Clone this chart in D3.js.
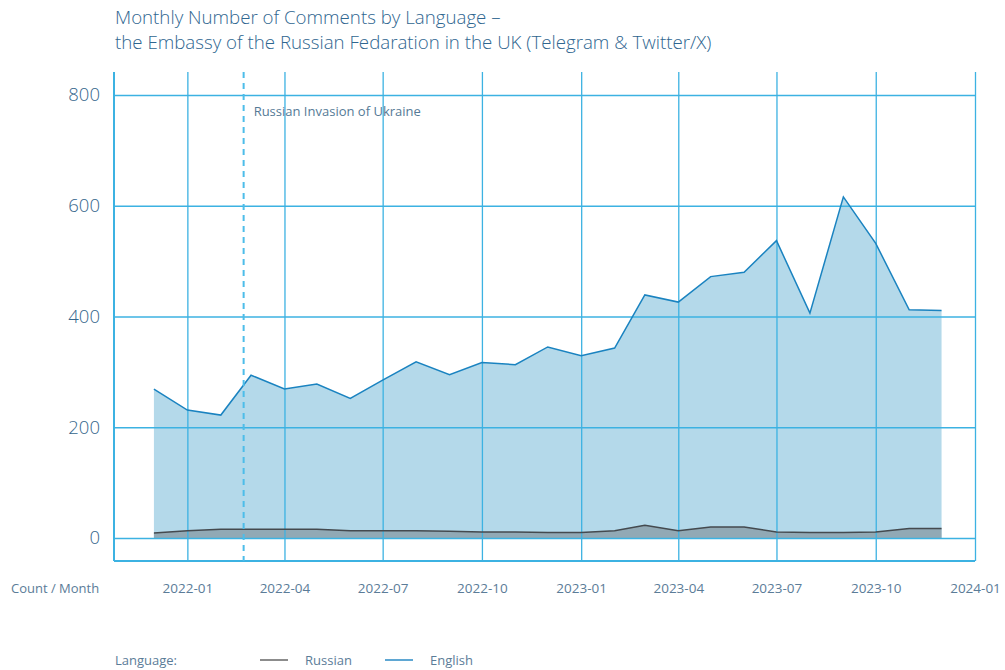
<!DOCTYPE html>
<html>
<head>
<meta charset="utf-8">
<script src="https://cdn.jsdelivr.net/npm/d3@7"></script>
<style>
  body { margin: 0; background: #fff; font-family: "Open Sans", sans-serif; }
  svg text { font-family: "Open Sans", sans-serif; }
</style>
</head>
<body>
<div id="graph-container"></div>
<script>
const w = 1005;
const h = 670;

// monthly counts, 2021-12 .. 2023-12
const months = [
  "2021-12", "2022-01", "2022-02", "2022-03", "2022-04", "2022-05", "2022-06",
  "2022-07", "2022-08", "2022-09", "2022-10", "2022-11", "2022-12",
  "2023-01", "2023-02", "2023-03", "2023-04", "2023-05", "2023-06",
  "2023-07", "2023-08", "2023-09", "2023-10", "2023-11", "2023-12"
];
const english = [
  269, 231, 222, 294, 269, 278, 252, 285, 318, 295, 317, 313, 345,
  329, 343, 439, 426, 472, 480, 537, 406, 616, 532, 412, 411
];
const russian = [
  9, 13, 16, 16, 16, 16, 13, 13, 13, 12, 11, 11, 10,
  10, 13, 23, 13, 20, 20, 11, 10, 10, 11, 17, 17
];
const yTicks = [0, 200, 400, 600, 800];
const xTicks = ["2022-01", "2022-04", "2022-07", "2022-10", "2023-01", "2023-04", "2023-07", "2023-10", "2024-01"];
const invasionDate = "2022-02-24";

const parseMonth = d3.timeParse("%Y-%m");
const parseDay = d3.timeParse("%Y-%m-%d");

const plotLeft = 114, plotRight = 975, plotTop = 72, plotBottom = 561;

const xScale = d3.scaleTime()
  .domain([parseDay("2021-10-25"), parseMonth("2024-01")])
  .range([plotLeft, plotRight]);

const yScale = d3.scaleLinear()
  .domain([-41.5, 841.5])
  .range([plotBottom, plotTop]);

const svg = d3.select("#graph-container").append("svg")
  .attr("width", w).attr("height", h);

//Title
const title = svg.append("text")
  .attr("fill", "#2f6690")
  .style("font-size", "18.7px")
  .style("font-weight", 300);
title.append("tspan").attr("x", 115).attr("y", 24).text("Monthly Number of Comments by Language –");
title.append("tspan").attr("x", 115).attr("y", 49).text("the Embassy of the Russian Fedaration in the UK (Telegram & Twitter/X)");

const gridColor = "#3cb2e2";

//Areas
const dataEn = months.map((m, i) => ({ date: parseMonth(m), v: english[i] }));
const dataRu = months.map((m, i) => ({ date: parseMonth(m), v: russian[i] }));

const area = d3.area()
  .x((d) => xScale(d.date))
  .y0(yScale(0))
  .y1((d) => yScale(d.v));
const line = d3.line()
  .x((d) => xScale(d.date))
  .y((d) => yScale(d.v));

svg.append("path").datum(dataEn).attr("d", area).attr("fill", "#b4d9ea");
svg.append("path").datum(dataRu).attr("d", area).attr("fill", "#91a9b5");

//Grid
const yAxis = d3.axisLeft(yScale).tickValues(yTicks)
  .tickSize(-(plotRight - plotLeft)).tickPadding(14);
svg.append("g")
  .attr("id", "y-axis")
  .attr("transform", `translate(${plotLeft}, 0)`)
  .call(yAxis)
  .call((g) => {
    g.select(".domain").remove();
    g.selectAll(".tick line").attr("stroke", gridColor).attr("stroke-width", 1.3);
    g.selectAll(".tick text").attr("fill", "#35668c").style("font-size", "18.5px").style("font-weight", 300);
  });

const xAxis = d3.axisBottom(xScale).tickValues(xTicks.map(parseMonth))
  .tickFormat(d3.timeFormat("%Y-%m"))
  .tickSize(-(plotBottom - plotTop)).tickPadding(22);
svg.append("g")
  .attr("id", "x-axis")
  .attr("transform", `translate(0, ${plotBottom})`)
  .call(xAxis)
  .call((g) => {
    g.select(".domain").remove();
    g.selectAll(".tick line").attr("stroke", gridColor).attr("stroke-width", 1.3);
    g.selectAll(".tick text").attr("fill", "#5b7c98").style("font-size", "13.5px");
  });

//Frame (left + bottom)
svg.append("line").attr("x1", plotLeft).attr("x2", plotLeft).attr("y1", plotTop).attr("y2", plotBottom)
  .attr("stroke", gridColor).attr("stroke-width", 2);
svg.append("line").attr("x1", plotLeft).attr("x2", plotRight).attr("y1", plotBottom).attr("y2", plotBottom)
  .attr("stroke", gridColor).attr("stroke-width", 2);

//Lines
svg.append("path").datum(dataEn).attr("d", line)
  .attr("fill", "none").attr("stroke", "#1a83c0").attr("stroke-width", 1.5);
svg.append("path").datum(dataRu).attr("d", line)
  .attr("fill", "none").attr("stroke", "#444a4f").attr("stroke-width", 1.5);

//Invasion marker
const xi = xScale(parseDay(invasionDate)) - 2;
svg.append("line")
  .attr("x1", xi).attr("x2", xi).attr("y1", plotTop).attr("y2", plotBottom)
  .attr("stroke", "#4dbde9").attr("stroke-width", 2)
  .attr("stroke-dasharray", "6,5");
svg.append("text")
  .attr("x", xi + 10).attr("y", yScale(770))
  .attr("dy", "0.35em")
  .attr("fill", "#557a96")
  .style("font-size", "13px")
  .text("Russian Invasion of Ukraine");

//Axis caption
svg.append("text")
  .attr("x", 11).attr("y", 593)
  .attr("fill", "#5b7c98")
  .style("font-size", "13px")
  .text("Count / Month");

//Legend
const legend = svg.append("g").attr("transform", "translate(0, 660)");
legend.append("text").attr("x", 115).attr("dy", "0.35em")
  .attr("fill", "#5b7c98").style("font-size", "13px").text("Language:");
[
  { name: "Russian", color: "#666", x: 260 },
  { name: "English", color: "#2a8ac4", x: 385 }
].forEach((d) => {
  legend.append("line").attr("x1", d.x).attr("x2", d.x + 28)
    .attr("stroke", d.color).attr("stroke-width", 1.5);
  legend.append("text").attr("x", d.x + 45).attr("dy", "0.35em")
    .attr("fill", "#5b7c98").style("font-size", "13px").text(d.name);
});
</script>
</body>
</html>
